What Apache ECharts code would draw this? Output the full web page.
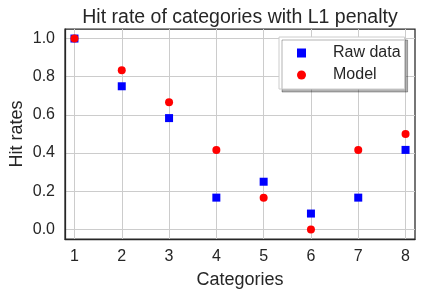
<!DOCTYPE html>
<html>
<head>
<meta charset="utf-8">
<script src="https://cdn.jsdelivr.net/npm/echarts@6/dist/echarts.min.js"></script>
<style>html,body{margin:0;padding:0;background:#fff}#c{width:423px;height:297px}</style>
</head>
<body>
<div id="c"></div>
<script>
const categories = [1, 2, 3, 4, 5, 6, 7, 8];
const rawData = [1.0, 0.75, 0.5833, 0.1667, 0.25, 0.0833, 0.1667, 0.4167];
const modelData = [1.0, 0.8333, 0.6667, 0.4167, 0.1667, 0.0, 0.4167, 0.5];
const yTicks = [0, 0.2, 0.4, 0.6, 0.8, 1.0];

const font = 'Liberation Sans, Arial, sans-serif';
const txt = '#262626';
const grid = '#cccccc';
const chart = echarts.init(document.getElementById('c'), null, {renderer: 'canvas'});
chart.setOption({
  animation: false,
  backgroundColor: '#fff',
  title: {
    text: 'Hit rate of categories with L1 penalty',
    left: 235, top: 3, textAlign: 'center',
    textStyle: {fontFamily: font, fontSize: 19.5, fontWeight: 'normal', color: txt}
  },
  legend: {
    orient: 'vertical', left: 279, top: 37,
    padding: [7, 4, 5, 18],
    itemWidth: 9, itemHeight: 9, itemGap: 4,
    backgroundColor: '#fff', borderColor: '#cccccc', borderWidth: 1,
    shadowColor: 'rgba(0,0,0,0.3)', shadowOffsetX: 3, shadowOffsetY: 3, shadowBlur: 0,
    textStyle: {fontFamily: font, fontSize: 16, color: txt, lineHeight: 18, padding: [0, 0, 0, 22]},
    data: [{name: 'Raw data', icon: 'rect'}, {name: 'Model', icon: 'circle'}]
  },
  grid: {left: 65, right: 8, top: 29, bottom: 58, show: true, borderColor: txt, borderWidth: 1.25,
    backgroundColor: '#fff', containLabel: false, outerBoundsMode: 'none'},
  xAxis: {
    type: 'value', min: 0.8, max: 8.2,
    name: 'Categories', nameLocation: 'middle', nameGap: 32, nameMoveOverlap: false,
    nameTextStyle: {fontFamily: font, fontSize: 18, color: txt},
    axisLine: {show: true, onZero: false, lineStyle: {color: txt, width: 1.25}},
    axisTick: {show: false, customValues: categories},
    axisLabel: {customValues: categories, fontFamily: font, fontSize: 16, color: txt, margin: 10},
    splitLine: {show: false}
  },
  yAxis: {
    type: 'value', min: -0.05, max: 1.05,
    name: 'Hit rates', nameLocation: 'middle', nameGap: 39, nameMoveOverlap: false,
    nameTextStyle: {fontFamily: font, fontSize: 18, color: txt},
    axisLine: {show: true, onZero: false, lineStyle: {color: txt, width: 1.25}},
    axisTick: {show: false, customValues: yTicks},
    axisLabel: {customValues: yTicks, fontFamily: font, fontSize: 16, color: txt, margin: 10,
      formatter: v => v.toFixed(1)},
    splitLine: {show: true, lineStyle: {color: grid, width: 1}}
  },
  series: [
    {name: 'gridx', type: 'scatter', data: [], z: 1, silent: true,
     markLine: {silent: true, z: 1, symbol: ['none', 'none'], label: {show: false},
       lineStyle: {color: grid, width: 1, type: 'solid'},
       data: categories.map(c => ({xAxis: c}))}},
    {name: 'Raw data', type: 'scatter', symbol: 'rect', symbolSize: 8, z: 3,
     itemStyle: {color: '#0000ff', opacity: 1}, data: categories.map((c, i) => [c, rawData[i]])},
    {name: 'Model', type: 'scatter', symbol: 'circle', symbolSize: 8, z: 4,
     itemStyle: {color: '#ff0000', opacity: 1}, data: categories.map((c, i) => [c, modelData[i]])}
  ]
});
</script>
</body>
</html>
